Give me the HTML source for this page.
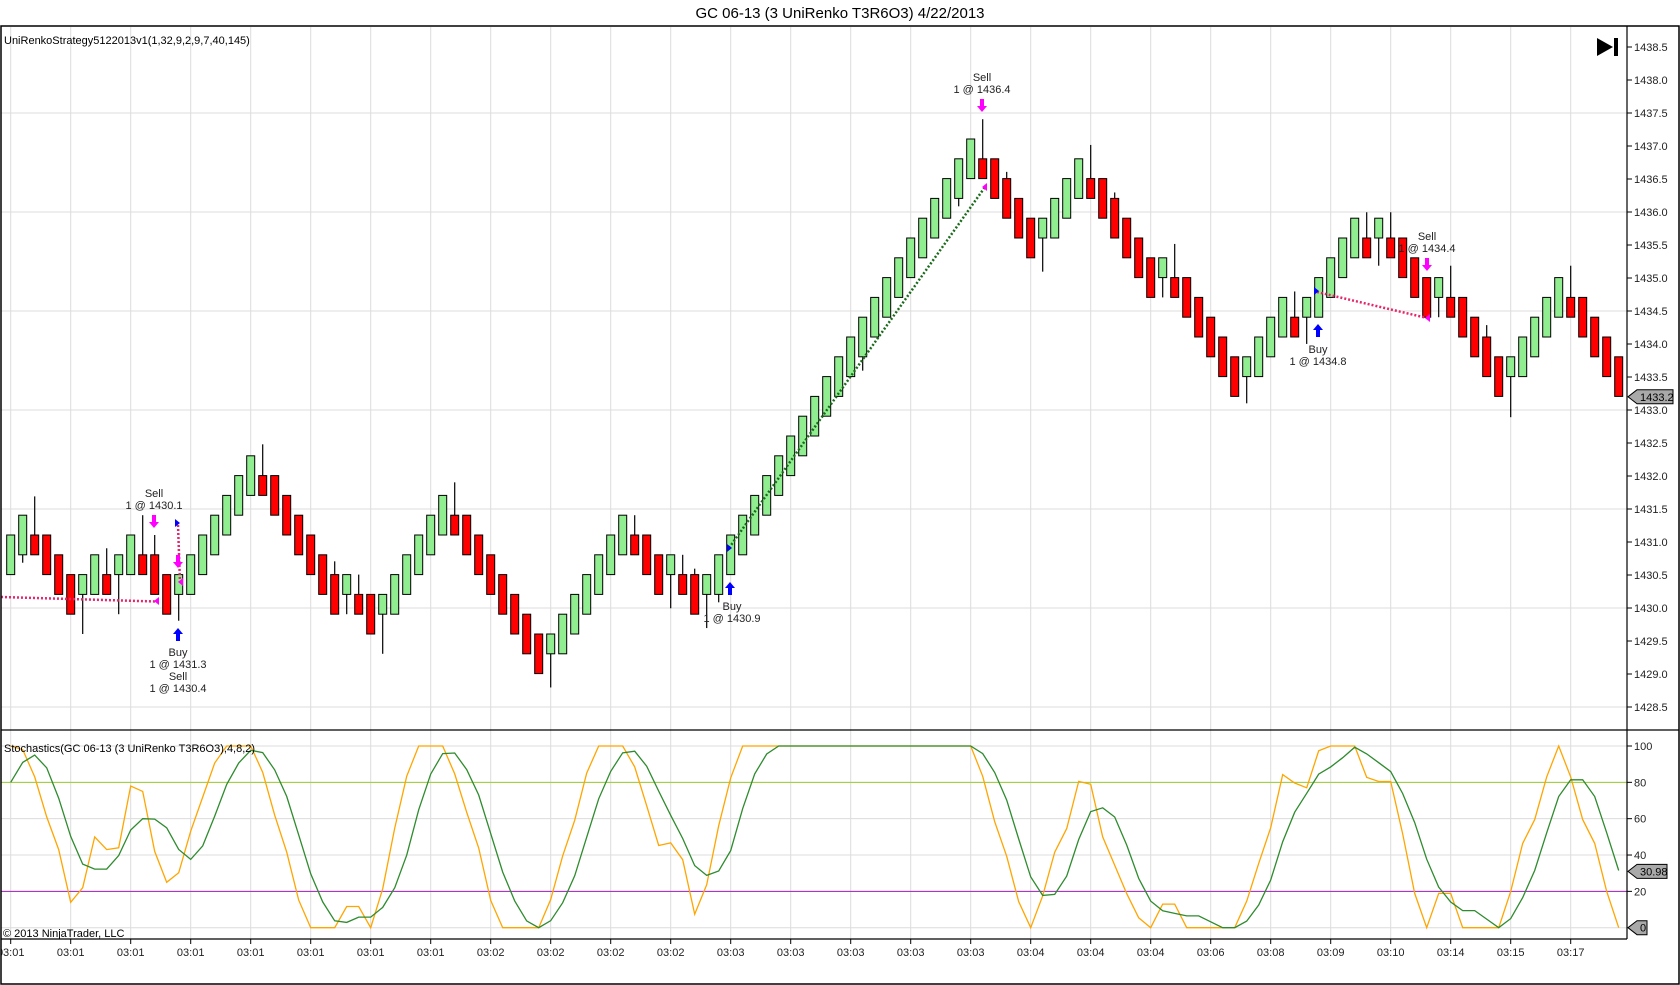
<!DOCTYPE html>
<html><head><meta charset="utf-8"><style>
html,body{margin:0;padding:0;background:#fff;}
svg{display:block;font-family:"Liberation Sans",Arial,sans-serif;}
</style></head><body>
<svg id="c" width="1680" height="985" viewBox="0 0 1680 985" xmlns="http://www.w3.org/2000/svg">
<defs>
<clipPath id="cp"><rect x="1" y="27" width="1626" height="703"/></clipPath>
<clipPath id="cs"><rect x="1" y="731" width="1626" height="208"/></clipPath>
<clipPath id="ct"><rect x="1" y="940" width="1626" height="40"/></clipPath>
</defs>
<rect width="1680" height="985" fill="#fff"/>
<text x="840" y="18" font-size="15" text-anchor="middle" fill="#000">GC 06-13 (3 UniRenko T3R6O3)  4/22/2013</text>
<g id="grid"></g>
<g id="bars" clip-path="url(#cp)"></g>
<g id="stoch" clip-path="url(#cs)"></g>
<g id="ann"></g>
<g id="axis"></g>
<rect x="1" y="26" width="1678" height="958" fill="none" stroke="#000" stroke-width="1.5"/>
<line x1="1" y1="730" x2="1679" y2="730" stroke="#000" stroke-width="1.2"/>
<line x1="1" y1="939" x2="1627" y2="939" stroke="#000" stroke-width="1.2"/>
<line x1="1627" y1="26" x2="1627" y2="939" stroke="#000" stroke-width="1.2"/>
<text x="4" y="44" font-size="11" fill="#000">UniRenkoStrategy5122013v1(1,32,9,2,9,7,40,145)</text>
<text x="4" y="752" font-size="11" fill="#000">Stochastics(GC 06-13 (3 UniRenko T3R6O3),4,8,2)</text>
<text x="3" y="937" font-size="11" fill="#000">© 2013 NinjaTrader, LLC</text>
<polygon points="1597,38 1613,47 1597,56" fill="#000"/>
<rect x="1614" y="38" width="4" height="18" fill="#000"/>
</svg>
<script>
var NS="http://www.w3.org/2000/svg";
function el(p,t,a,txt){var e=document.createElementNS(NS,t);for(var k in a)e.setAttribute(k,a[k]);if(txt!==undefined)e.textContent=txt;p.appendChild(e);return e;}
var G=document.getElementById('grid'),B=document.getElementById('bars'),S=document.getElementById('stoch'),A=document.getElementById('axis'),N=document.getElementById('ann');
function py(p){return 47+(1438.5-p)*66;}
function ly(L){return 535-L*19.8;}
function sy(v){return 927.7-1.817*v;}
function bx(k){return 10.7+12*k;}
for(var n=0;n<28;n++){var x=bx(5*n);if(x>1626)break;
 el(G,'line',{x1:x,y1:27,x2:x,y2:939,stroke:'#dcdcdc','stroke-width':1});}
for(var p=1428.5;p<=1438.6;p+=1.5){el(G,'line',{x1:1,y1:py(p),x2:1627,y2:py(p),stroke:'#dcdcdc','stroke-width':1});}
[0,20,40,60,80,100].forEach(function(v){el(G,'line',{x1:1,y1:sy(v),x2:1627,y2:sy(v),stroke:'#dcdcdc','stroke-width':1});});
el(G,'line',{x1:1,y1:sy(80),x2:1627,y2:sy(80),stroke:'#9acd32','stroke-width':1});
el(G,'line',{x1:1,y1:sy(20),x2:1627,y2:sy(20),stroke:'#a020c0','stroke-width':1});
for(var i=0;i<=20;i++){var p=1428.5+0.5*i,y=py(p);
 el(A,'line',{x1:1627,y1:y,x2:1632,y2:y,stroke:'#000'});
 el(A,'text',{x:1634,y:y+4,'font-size':11,fill:'#222'},p.toFixed(1));}
[20,40,60,80,100].forEach(function(v){var y=sy(v);el(A,'line',{x1:1627,y1:y,x2:1632,y2:y,stroke:'#000'});
 el(A,'text',{x:1634,y:y+4,'font-size':11,fill:'#222'},String(v));});
var labs=["03:01","03:01","03:01","03:01","03:01","03:01","03:01","03:01","03:02","03:02","03:02","03:02","03:03","03:03","03:03","03:03","03:03","03:04","03:04","03:04","03:06","03:08","03:09","03:10","03:14","03:15","03:17"];
var T=el(A,'g',{'clip-path':'url(#ct)'});
labs.forEach(function(s,n){var x=bx(5*n);el(A,'line',{x1:x,y1:939,x2:x,y2:944,stroke:'#000'});
 el(T,'text',{x:x,y:956,'font-size':11,'text-anchor':'middle',fill:'#222'},s);});
function tag(y,txt,w){el(A,'polygon',{points:'1628,'+y+' 1637,'+(y-7)+' '+(1637+w)+','+(y-7)+' '+(1637+w)+','+(y+7)+' 1637,'+(y+7),fill:'#a9a9a9',stroke:'#000','stroke-width':1});
 el(A,'text',{x:1640,y:y+4,'font-size':11,fill:'#000'},txt);}
var D=[["G",0,-2],["G",1,-1,null,-1.4],["R",0,-1,1.95],["R",0,-2],["R",-1,-3],["R",-2,-4],["G",-2,-3,null,-5],["G",-1,-3],["R",-2,-3,-0.67],["G",-1,-2,null,-4],
["G",0,-2],["R",-1,-2,1],["R",-1,-3,0],["R",-2,-4],["G",-2,-3,null,-4.33],["G",-1,-3],["G",0,-2],["G",1,-1],["G",2,0],["G",3,1],
["G",4,2],["R",3,2,4.58],["R",3,1],["R",2,0],["R",1,-1],["R",0,-2],["R",-1,-3],["R",-2,-4,-1.33],["G",-2,-3,null,-4],["R",-3,-4,-2],
["R",-3,-5],["G",-3,-4,null,-6],["G",-2,-4],["G",-1,-3],["G",0,-2],["G",1,-1],["G",2,0],["R",1,0,2.66],["R",1,-1],["R",0,-2],
["R",-1,-3],["R",-2,-4],["R",-3,-5],["R",-4,-6],["R",-5,-7],["G",-5,-6,null,-7.7],["G",-4,-6],["G",-3,-5],["G",-2,-4],["G",-1,-3],
["G",0,-2],["G",1,-1],["R",0,-1,1],["R",0,-2],["R",-1,-3],["G",-1,-2,null,-3.7],["R",-2,-3,-1],["R",-2,-4,-1.7],["G",-2,-3,null,-4.7],["G",-1,-3,null,-3.4],["G",0,-2]];
for(var j=1;j<=20;j++){D.push(j==11?["G",j,j-2,null,8.3]:(j==19?["G",j,j-2,null,16.6]:["G",j,j-2]));}
D=D.concat([["R",19,18,21],["R",19,17],["R",18,16,18.34],["R",17,15],["R",16,14],["G",16,15,null,13.3],["G",17,15],["G",18,16],["G",19,17],["R",18,17,19.7],
["R",18,16],["R",17,15,17.3],["R",16,14],["R",15,13],["R",14,12],["G",14,13,null,12],["R",13,12,14.7],["R",13,11],["R",12,10],["R",11,9],
["R",10,8],["R",9,7],["G",9,8,null,6.65],["G",10,8],["G",11,9],["G",12,10],["R",11,10,12.3],["G",12,11,null,9.65],["G",13,11],["G",14,12],
["G",15,13],["G",16,14],["R",15,14,16.3],["G",16,15,null,13.6],["R",15,14,16.3],["R",15,13],["R",14,12],["R",13,11],["G",13,12,null,11],["R",12,11,13.6],
["R",12,10],["R",11,9],["R",10,8,10.6],["R",9,7],["G",9,8,null,5.95],["G",10,8],["G",11,9],["G",12,10],["G",13,11],["R",12,11,13.6],
["R",12,10],["R",11,9],["R",10,8],["R",9,7]]);
var H=[],Lo=[],C=[];
D.forEach(function(b,k){var x=bx(k),top=b[1],bot=b[2],wh=b[3],wl=b[4];
 var hi=(wh!=null&&wh>top)?wh:top, lo=(wl!=null&&wl<bot)?wl:bot;
 H.push(hi);Lo.push(lo);C.push(b[0]=="G"?top:bot);
 if(hi>top)el(B,'line',{x1:x,y1:ly(hi),x2:x,y2:ly(top),stroke:'#000','stroke-width':1.2});
 if(lo<bot)el(B,'line',{x1:x,y1:ly(bot),x2:x,y2:ly(lo),stroke:'#000','stroke-width':1.2});
 el(B,'rect',{x:x-4,y:ly(top),width:8,height:ly(bot)-ly(top),fill:b[0]=="G"?'#90ee90':'#ff0000',stroke:'#000','stroke-width':1});
});
var fk=[],K=[],Dd=[];
var Kov=[100,98,83,61,43,14,22,50,43,44,78,75,42];
var Dov=[80,91,95,88];
for(var k=0;k<C.length;k++){var mn=1e9,mx=-1e9;for(var i=Math.max(0,k-7);i<=k;i++){mn=Math.min(mn,Lo[i]);mx=Math.max(mx,H[i]);}
 fk.push(mx-mn>0?100*(C[k]-mn)/(mx-mn):50);
 var s=0,c=0;for(var i=Math.max(0,k-1);i<=k;i++){s+=fk[i];c++;}
 K.push(k<Kov.length?Kov[k]:s/c);
 s=0;c=0;for(var i=Math.max(0,k-3);i<=k;i++){s+=K[i];c++;}
 Dd.push(k<Dov.length?Dov[k]:s/c);}
function pts(a){return a.map(function(v,k){return bx(k).toFixed(1)+','+sy(v).toFixed(1);}).join(' ');}
el(S,'polyline',{points:pts(K),fill:'none',stroke:'#ffa500','stroke-width':1.3});
el(S,'polyline',{points:pts(Dd),fill:'none',stroke:'#2e8b2e','stroke-width':1.3});
tag(396.8,'1433.2',36);
tag(sy(30.98),'30.98',30);
tag(sy(0),'0',10);
function dot(x1,y1,x2,y2,col){el(N,'line',{x1:x1,y1:y1,x2:x2,y2:y2,stroke:col,'stroke-width':2.5,'stroke-dasharray':'2,2'});}
function txt(x,y,s){el(N,'text',{x:x,y:y,'font-size':11,'text-anchor':'middle',fill:'#222'},s);}
function arrDown(x,y,col){el(N,'polygon',{points:(x-2)+','+y+' '+(x+2)+','+y+' '+(x+2)+','+(y+7)+' '+(x+5)+','+(y+7)+' '+x+','+(y+13)+' '+(x-5)+','+(y+7)+' '+(x-2)+','+(y+7),fill:col});}
function arrUp(x,y,col){el(N,'polygon',{points:x+','+y+' '+(x+5)+','+(y+6)+' '+(x+2)+','+(y+6)+' '+(x+2)+','+(y+13)+' '+(x-2)+','+(y+13)+' '+(x-2)+','+(y+6)+' '+(x-5)+','+(y+6),fill:col});}
function triR(x,y,col){el(N,'polygon',{points:x+','+(y-4)+' '+(x+5)+','+y+' '+x+','+(y+4),fill:col});}
function triL(x,y,col){el(N,'polygon',{points:x+','+(y-4)+' '+(x-5)+','+y+' '+x+','+(y+4),fill:col});}
var pk='#e8246a';
dot(1,597,156,601.5,pk);triL(159,601,'#ff00ff');
dot(178,525,180,582,pk);triR(175,523,'#0000ff');triL(183,582,'#ff00ff');
txt(154,497,'Sell');txt(154,509,'1 @ 1430.1');arrDown(154,515,'#ff00ff');arrDown(178,555,'#ff00ff');
arrUp(178,628,'#0000ff');txt(178,656,'Buy');txt(178,668,'1 @ 1431.3');txt(178,680,'Sell');txt(178,692,'1 @ 1430.4');
dot(729,548,985,187,'#1a6b1a');triR(727,548,'#0000ff');triL(987,187,'#ff00ff');
arrUp(730,582,'#0000ff');txt(732,610,'Buy');txt(732,622,'1 @ 1430.9');
txt(982,81,'Sell');txt(982,93,'1 @ 1436.4');arrDown(982,99,'#ff00ff');
dot(1317,292,1427,318,pk);triR(1314,291,'#0000ff');triL(1430,318,'#ff00ff');
arrUp(1318,324,'#0000ff');txt(1318,353,'Buy');txt(1318,365,'1 @ 1434.8');
txt(1427,240,'Sell');txt(1427,252,'1 @ 1434.4');arrDown(1427,258,'#ff00ff');
</script>
</body></html>
